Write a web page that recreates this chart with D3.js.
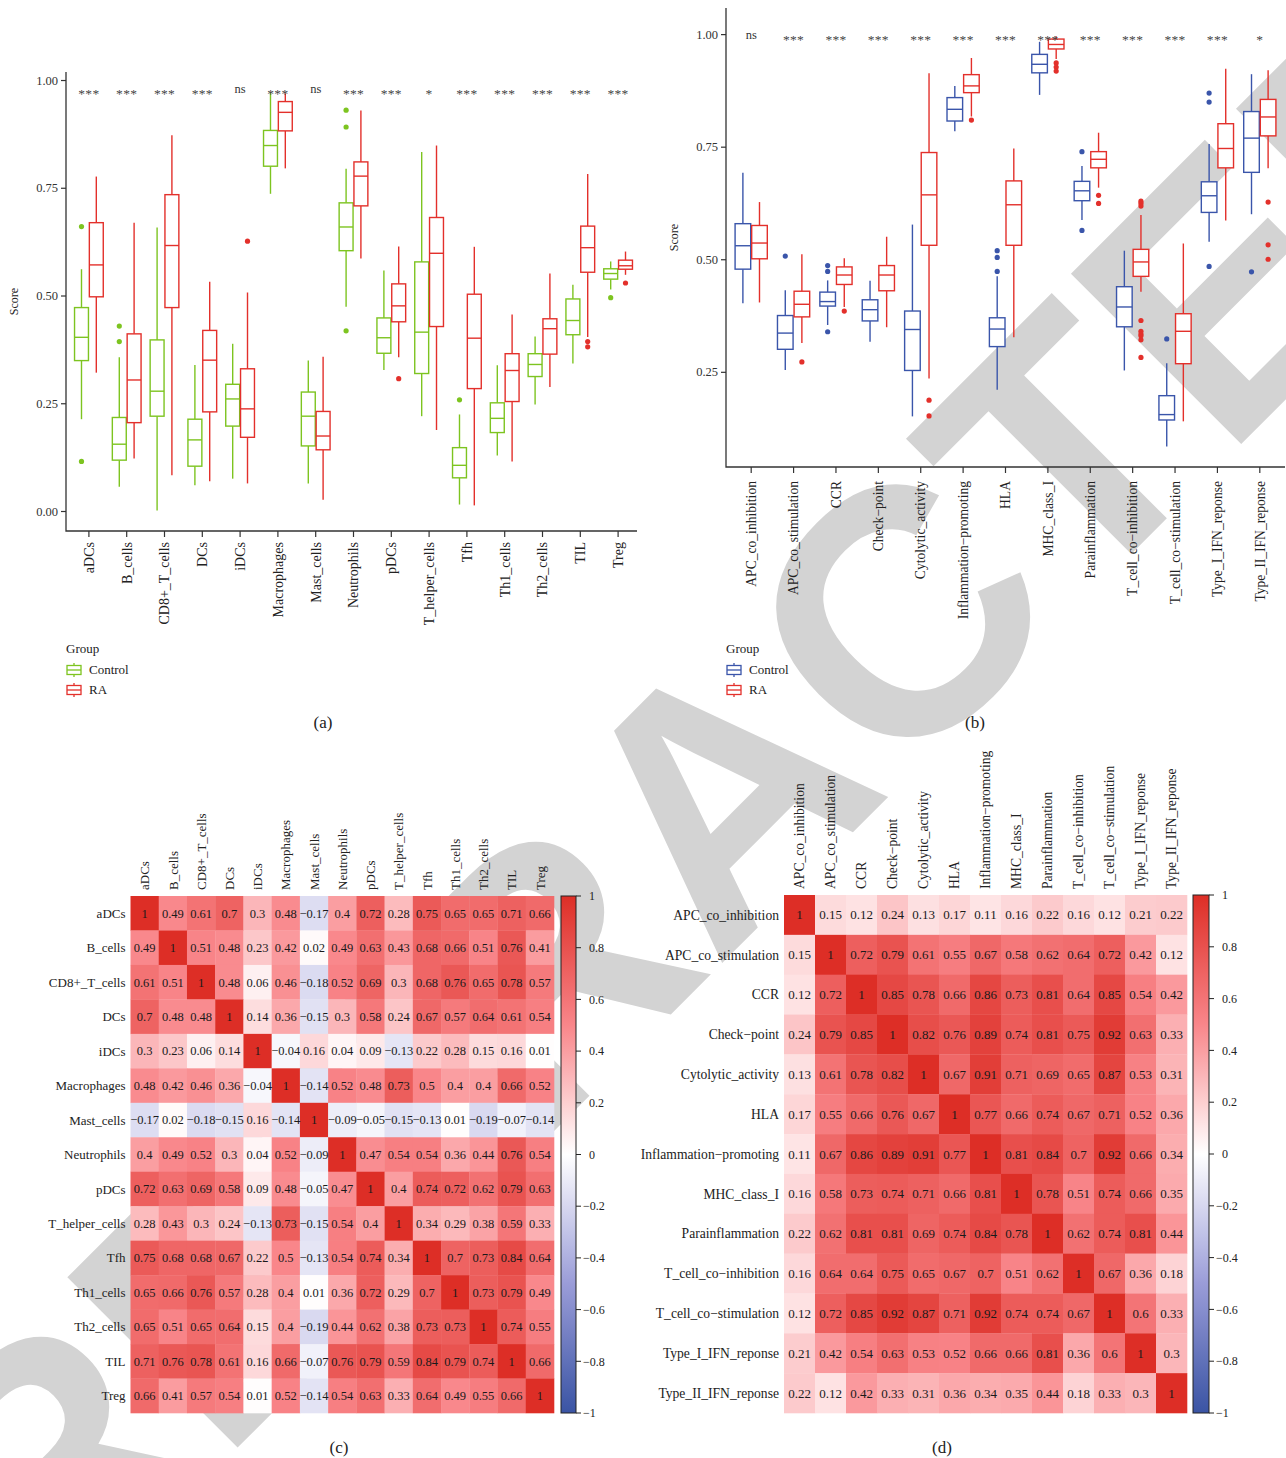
<!DOCTYPE html>
<html>
<head>
<meta charset="utf-8">
<script src="https://cdn.jsdelivr.net/npm/d3@7"></script>
<style>
  body { margin: 0; background: #fff; }
  svg { display: block; }
</style>
</head>
<body>
<svg id="fig" width="1286" height="1458"></svg>
<script>
// ---------------- data ----------------
const groups = ["Control", "RA"];

// immune cell scores: [lower whisker, Q1, median, Q3, upper whisker]
const cellTypes = ["aDCs","B_cells","CD8+_T_cells","DCs","iDCs","Macrophages","Mast_cells","Neutrophils","pDCs","T_helper_cells","Tfh","Th1_cells","Th2_cells","TIL","Treg"];
const cellControlStats = [
  [0.213,0.349,0.403,0.472,0.561],[0.056,0.118,0.155,0.217,0.357],[0.001,0.220,0.278,0.397,0.658],
  [0.060,0.104,0.165,0.213,0.339],[0.075,0.197,0.260,0.294,0.388],[0.736,0.800,0.848,0.883,0.971],
  [0.064,0.151,0.220,0.276,0.349],[0.474,0.604,0.659,0.715,0.794],[0.327,0.366,0.402,0.448,0.558],
  [0.220,0.319,0.415,0.578,0.833],[0.015,0.077,0.106,0.147,0.224],[0.129,0.182,0.215,0.251,0.338],
  [0.247,0.312,0.340,0.365,0.405],[0.342,0.409,0.442,0.492,0.525],[0.514,0.538,0.551,0.562,0.579]
];
const cellControlOutliers = [[0.660,0.115],[0.429,0.393],[],[],[],[],[],[0.930,0.891,0.418],[],[],[0.258],[],[],[],[0.495]];
const cellRAStats = [
  [0.321,0.497,0.571,0.669,0.776],[0.122,0.205,0.304,0.411,0.669],[0.083,0.472,0.616,0.734,0.872],
  [0.069,0.230,0.350,0.419,0.532],[0.064,0.171,0.237,0.330,0.507],[0.795,0.882,0.925,0.950,0.969],
  [0.026,0.142,0.174,0.231,0.358],[0.586,0.708,0.777,0.810,0.929],[0.357,0.439,0.476,0.527,0.614],
  [0.188,0.428,0.598,0.681,0.848],[0.013,0.284,0.401,0.503,0.613],[0.115,0.254,0.326,0.365,0.456],
  [0.288,0.364,0.423,0.446,0.551],[0.404,0.554,0.611,0.661,0.782],[0.548,0.561,0.569,0.582,0.602]
];
const cellRAOutliers = [[],[],[],[],[0.626],[],[],[],[0.307],[],[],[],[],[0.393,0.381],[0.529]];
const cellSignif = ["***","***","***","***","ns","***","ns","***","***","*","***","***","***","***","***"];

// immune function scores
const immuneFunctions = ["APC_co_inhibition","APC_co_stimulation","CCR","Check\u2212point","Cytolytic_activity","Inflammation\u2212promoting","HLA","MHC_class_I","Parainflammation","T_cell_co\u2212inhibition","T_cell_co\u2212stimulation","Type_I_IFN_reponse","Type_II_IFN_reponse"];
const funcControlStats = [
  [0.402,0.478,0.530,0.579,0.692],[0.254,0.300,0.336,0.375,0.431],[0.354,0.396,0.406,0.427,0.453],
  [0.317,0.363,0.388,0.410,0.452],[0.151,0.253,0.344,0.385,0.577],[0.784,0.807,0.833,0.859,0.885],
  [0.210,0.306,0.345,0.370,0.462],[0.865,0.914,0.933,0.955,0.983],[0.587,0.630,0.652,0.673,0.707],
  [0.253,0.350,0.394,0.439,0.519],[0.084,0.143,0.155,0.197,0.269],[0.539,0.604,0.641,0.672,0.756],
  [0.600,0.693,0.769,0.828,0.911]
];
const funcControlOutliers = [[],[0.507],[0.486,0.473,0.339],[],[],[],[0.519,0.504,0.473],[],[0.739,0.564],[],[0.323],[0.869,0.849,0.484],[0.472]];
const funcRAStats = [
  [0.404,0.501,0.536,0.575,0.627],[0.314,0.372,0.400,0.429,0.511],[0.394,0.444,0.465,0.483,0.502],
  [0.349,0.430,0.465,0.486,0.550],[0.235,0.531,0.643,0.737,0.913],[0.817,0.870,0.885,0.910,0.947],
  [0.327,0.531,0.621,0.674,0.746],[0.945,0.967,0.977,0.989,0.995],[0.659,0.703,0.722,0.739,0.781],
  [0.428,0.462,0.494,0.522,0.598],[0.140,0.268,0.340,0.379,0.535],[0.586,0.703,0.746,0.801,0.923],
  [0.702,0.774,0.816,0.855,0.920]
];
const funcRAOutliers = [[],[0.272],[0.385],[],[0.187,0.152],[0.809],[],[0.936,0.927,0.918],[0.642,0.624],[0.629,0.624,0.618,0.364,0.340,0.334,0.330,0.321,0.282],[],[],[0.627,0.532,0.500]];
const funcSignif = ["ns","***","***","***","***","***","***","***","***","***","***","***","*"];

const scoreTicksA = [0, 0.25, 0.5, 0.75, 1];
const scoreTicksB = [0.25, 0.5, 0.75, 1];

// correlation matrices
const corrCellLabels = ["aDCs","B_cells","CD8+_T_cells","DCs","iDCs","Macrophages","Mast_cells","Neutrophils","pDCs","T_helper_cells","Tfh","Th1_cells","Th2_cells","TIL","Treg"];
const cellCorr = [
  [1,0.49,0.61,0.7,0.3,0.48,-0.17,0.4,0.72,0.28,0.75,0.65,0.65,0.71,0.66],
  [0.49,1,0.51,0.48,0.23,0.42,0.02,0.49,0.63,0.43,0.68,0.66,0.51,0.76,0.41],
  [0.61,0.51,1,0.48,0.06,0.46,-0.18,0.52,0.69,0.3,0.68,0.76,0.65,0.78,0.57],
  [0.7,0.48,0.48,1,0.14,0.36,-0.15,0.3,0.58,0.24,0.67,0.57,0.64,0.61,0.54],
  [0.3,0.23,0.06,0.14,1,-0.04,0.16,0.04,0.09,-0.13,0.22,0.28,0.15,0.16,0.01],
  [0.48,0.42,0.46,0.36,-0.04,1,-0.14,0.52,0.48,0.73,0.5,0.4,0.4,0.66,0.52],
  [-0.17,0.02,-0.18,-0.15,0.16,-0.14,1,-0.09,-0.05,-0.15,-0.13,0.01,-0.19,-0.07,-0.14],
  [0.4,0.49,0.52,0.3,0.04,0.52,-0.09,1,0.47,0.54,0.54,0.36,0.44,0.76,0.54],
  [0.72,0.63,0.69,0.58,0.09,0.48,-0.05,0.47,1,0.4,0.74,0.72,0.62,0.79,0.63],
  [0.28,0.43,0.3,0.24,-0.13,0.73,-0.15,0.54,0.4,1,0.34,0.29,0.38,0.59,0.33],
  [0.75,0.68,0.68,0.67,0.22,0.5,-0.13,0.54,0.74,0.34,1,0.7,0.73,0.84,0.64],
  [0.65,0.66,0.76,0.57,0.28,0.4,0.01,0.36,0.72,0.29,0.7,1,0.73,0.79,0.49],
  [0.65,0.51,0.65,0.64,0.15,0.4,-0.19,0.44,0.62,0.38,0.73,0.73,1,0.74,0.55],
  [0.71,0.76,0.78,0.61,0.16,0.66,-0.07,0.76,0.79,0.59,0.84,0.79,0.74,1,0.66],
  [0.66,0.41,0.57,0.54,0.01,0.52,-0.14,0.54,0.63,0.33,0.64,0.49,0.55,0.66,1]
];
const corrFuncLabels = ["APC_co_inhibition","APC_co_stimulation","CCR","Check\u2212point","Cytolytic_activity","HLA","Inflammation\u2212promoting","MHC_class_I","Parainflammation","T_cell_co\u2212inhibition","T_cell_co\u2212stimulation","Type_I_IFN_reponse","Type_II_IFN_reponse"];
const funcCorr = [
  [1,0.15,0.12,0.24,0.13,0.17,0.11,0.16,0.22,0.16,0.12,0.21,0.22],
  [0.15,1,0.72,0.79,0.61,0.55,0.67,0.58,0.62,0.64,0.72,0.42,0.12],
  [0.12,0.72,1,0.85,0.78,0.66,0.86,0.73,0.81,0.64,0.85,0.54,0.42],
  [0.24,0.79,0.85,1,0.82,0.76,0.89,0.74,0.81,0.75,0.92,0.63,0.33],
  [0.13,0.61,0.78,0.82,1,0.67,0.91,0.71,0.69,0.65,0.87,0.53,0.31],
  [0.17,0.55,0.66,0.76,0.67,1,0.77,0.66,0.74,0.67,0.71,0.52,0.36],
  [0.11,0.67,0.86,0.89,0.91,0.77,1,0.81,0.84,0.7,0.92,0.66,0.34],
  [0.16,0.58,0.73,0.74,0.71,0.66,0.81,1,0.78,0.51,0.74,0.66,0.35],
  [0.22,0.62,0.81,0.81,0.69,0.74,0.84,0.78,1,0.62,0.74,0.81,0.44],
  [0.16,0.64,0.64,0.75,0.65,0.67,0.7,0.51,0.62,1,0.67,0.36,0.18],
  [0.12,0.72,0.85,0.92,0.87,0.71,0.92,0.74,0.74,0.67,1,0.6,0.33],
  [0.21,0.42,0.54,0.63,0.53,0.52,0.66,0.66,0.81,0.36,0.6,1,0.3],
  [0.22,0.12,0.42,0.33,0.31,0.36,0.34,0.35,0.44,0.18,0.33,0.3,1]
];
const colorbarTicks = [1, 0.8, 0.6, 0.4, 0.2, 0, -0.2, -0.4, -0.6, -0.8, -1];

// ---------------- drawing ----------------
const SERIF = '"Liberation Serif","DejaVu Serif",serif';
const svg = d3.select("#fig").style("font-family", SERIF);
svg.append("rect").attr("width", 1286).attr("height", 1458).attr("fill", "#fff");

// background stamp
const stamp = svg.append("g");
const stampText = stamp.append("text")
  .attr("font-family", '"Liberation Sans",Arial,sans-serif')
  .attr("font-weight", "bold").attr("font-size", 350)
  .attr("fill", "#d3d3d3").text("RETRACTED");
{
  const ext = stampText.node().getExtentOfChar(5);
  const cx = ext.x + ext.width / 2, cy = -0.36 * 350;
  stampText.attr("transform", `translate(895,612) rotate(-45) translate(${-cx},${-cy})`);
}

const corrColor = d3.scaleLinear()
  .domain([-1, -0.5, 0, 0.5, 1])
  .range(["#3A54A4", "#9A9CD8", "#FFFFFF", "#F9868A", "#DD2E26"]);

function fmtScore(d) { return d3.format(".2f")(d); }

function boxPanel(cfg) {
  const g = svg.append("g");
  const x = d3.scaleBand().domain(cfg.cats).range(cfg.xRange).paddingInner(0.24).paddingOuter(0.12);
  const dodge = d3.scaleBand().domain(groups).range([0, x.bandwidth()]).paddingInner(0.06);
  const y = d3.scaleLinear().domain(cfg.yDomain).range([cfg.yBottom, cfg.yTop]);

  // axes
  const yAxis = g.append("g").attr("transform", `translate(${cfg.axisX},0)`)
    .call(d3.axisLeft(y).tickValues(cfg.yTicks).tickFormat(fmtScore).tickSize(5).tickSizeOuter(0));
  yAxis.select(".domain").remove();
  yAxis.selectAll("text").attr("font-family", SERIF).attr("font-size", 12.5).attr("fill", "#333").attr("x", -8);
  yAxis.selectAll("line").attr("stroke", "#333").attr("stroke-width", 1.2);

  const xAxis = g.append("g").attr("transform", `translate(0,${cfg.yBottom})`)
    .call(d3.axisBottom(x).tickSize(6).tickSizeOuter(0));
  xAxis.select(".domain").remove();
  xAxis.selectAll("line").attr("stroke", "#333").attr("stroke-width", 1.2);
  xAxis.selectAll("text")
    .attr("font-family", SERIF).attr("font-size", cfg.xLabelSize).attr("fill", "#222")
    .attr("text-anchor", "end").attr("dy", null).attr("y", null)
    .attr("transform", `translate(${cfg.xLabelSize * 0.35},${cfg.xLabelGap}) rotate(-90)`);

  g.append("path").attr("d", `M${cfg.axisX},${cfg.yTop}V${cfg.yBottom}H${cfg.axisRight}`)
    .attr("fill", "none").attr("stroke", "#333").attr("stroke-width", 1.3);

  // y title
  g.append("text").attr("transform", `translate(${cfg.titleX},${(cfg.yTop + cfg.yBottom) / 2}) rotate(-90)`)
    .attr("text-anchor", "middle").attr("font-size", 12).attr("fill", "#222").text("Score");

  // boxes
  cfg.series.forEach(s => {
    const sg = g.append("g");
    cfg.cats.forEach((c, i) => {
      const [lo, q1, med, q3, hi] = s.stats[i];
      const x0 = x(c) + dodge(s.group), w = dodge.bandwidth(), cx = x0 + w / 2;
      sg.append("line").attr("x1", cx).attr("x2", cx).attr("y1", y(hi)).attr("y2", y(q3))
        .attr("stroke", s.color).attr("stroke-width", 1.4);
      sg.append("line").attr("x1", cx).attr("x2", cx).attr("y1", y(q1)).attr("y2", y(lo))
        .attr("stroke", s.color).attr("stroke-width", 1.4);
      sg.append("rect").attr("x", x0).attr("width", w).attr("y", y(q3)).attr("height", y(q1) - y(q3))
        .attr("fill", "#fff").attr("stroke", s.color).attr("stroke-width", 1.4);
      sg.append("line").attr("x1", x0).attr("x2", x0 + w).attr("y1", y(med)).attr("y2", y(med))
        .attr("stroke", s.color).attr("stroke-width", 1.4);
      s.outliers[i].forEach(v => {
        sg.append("circle").attr("cx", cx).attr("cy", y(v)).attr("r", 2.6).attr("fill", s.color);
      });
    });
  });

  // significance labels
  g.selectAll(".sig").data(cfg.signif).join("text")
    .attr("x", (d, i) => x(cfg.cats[i]) + x.bandwidth() / 2)
    .attr("y", d => d === "ns" ? cfg.sigY : cfg.sigY + 5)
    .attr("text-anchor", "middle").attr("font-size", d => d === "ns" ? 12.5 : 13.5)
    .attr("letter-spacing", d => d === "ns" ? 0 : 0.3)
    .attr("fill", d => d === "ns" ? "#333" : "#444").text(d => d);

  // legend
  const lg = g.append("g").attr("transform", `translate(${cfg.legendX},${cfg.legendY})`);
  lg.append("text").attr("x", 0).attr("y", 0).attr("font-size", 13).attr("fill", "#222").text("Group");
  cfg.series.forEach((s, k) => {
    const ky = 10 + k * 20;
    const kg = lg.append("g").attr("transform", `translate(1,${ky})`);
    kg.append("line").attr("x1", 7).attr("x2", 7).attr("y1", 0).attr("y2", 14).attr("stroke", s.color).attr("stroke-width", 1.3);
    kg.append("rect").attr("x", 0).attr("y", 2.5).attr("width", 14).attr("height", 9)
      .attr("fill", "#fff").attr("stroke", s.color).attr("stroke-width", 1.3);
    kg.append("line").attr("x1", 0).attr("x2", 14).attr("y1", 7).attr("y2", 7).attr("stroke", s.color).attr("stroke-width", 1.3);
    lg.append("text").attr("x", 23).attr("y", ky + 11).attr("font-size", 13).attr("fill", "#222").text(s.group);
  });
}

const GREEN = "#7DC420", RED = "#E3302B", BLUE = "#3A55AA";

boxPanel({
  cats: cellTypes, xRange: [70, 637],
  yDomain: [-0.0464, 1.0186], yBottom: 531, yTop: 72, yTicks: scoreTicksA,
  axisX: 66, axisRight: 637, titleX: 18, sigY: 93,
  xLabelSize: 14, xLabelGap: 11,
  signif: cellSignif, legendX: 66, legendY: 653,
  series: [
    { group: "Control", color: GREEN, stats: cellControlStats, outliers: cellControlOutliers },
    { group: "RA", color: RED, stats: cellRAStats, outliers: cellRAOutliers }
  ]
});

boxPanel({
  cats: immuneFunctions, xRange: [730, 1281],
  yDomain: [0.0386, 1.058], yBottom: 467, yTop: 8, yTicks: scoreTicksB,
  axisX: 726, axisRight: 1285, titleX: 678, sigY: 39,
  xLabelSize: 13.6, xLabelGap: 14,
  signif: funcSignif, legendX: 726, legendY: 653,
  series: [
    { group: "Control", color: BLUE, stats: funcControlStats, outliers: funcControlOutliers },
    { group: "RA", color: RED, stats: funcRAStats, outliers: funcRAOutliers }
  ]
});

// correlation heatmaps
const defs = svg.append("defs");
function heatmap(cfg) {
  const g = svg.append("g");
  const n = cfg.labels.length;
  const x = d3.scaleBand().domain(d3.range(n)).range([cfg.x0, cfg.x1]);
  const y = d3.scaleBand().domain(d3.range(n)).range([cfg.y0, cfg.y1]);
  const cells = [];
  cfg.matrix.forEach((row, i) => row.forEach((v, j) => cells.push({ i, j, v })));
  g.selectAll("rect.cell").data(cells).join("rect")
    .attr("x", d => x(d.j)).attr("y", d => y(d.i))
    .attr("width", x.bandwidth() + 0.3).attr("height", y.bandwidth() + 0.3)
    .attr("fill", d => corrColor(d.v));
  g.selectAll("text.val").data(cells).join("text")
    .attr("x", d => x(d.j) + x.bandwidth() / 2).attr("y", d => y(d.i) + y.bandwidth() / 2)
    .attr("dy", "0.35em").attr("text-anchor", "middle")
    .attr("font-size", cfg.valueSize).attr("fill", "#1a1a1a")
    .text(d => d.v < 0 ? "\u2212" + String(Math.abs(d.v)) : String(d.v));
  // row labels
  g.selectAll("text.row").data(cfg.labels).join("text")
    .attr("x", cfg.x0 - 5).attr("y", (d, i) => y(i) + y.bandwidth() / 2).attr("dy", "0.35em")
    .attr("text-anchor", "end").attr("font-size", cfg.labelSize).attr("fill", "#222").text(d => d);
  // column labels
  g.selectAll("text.col").data(cfg.labels).join("text")
    .attr("transform", (d, i) => `translate(${x(i) + x.bandwidth() / 2 + cfg.labelSize * 0.36},${cfg.y0 - 6}) rotate(-90)`)
    .attr("text-anchor", "start").attr("font-size", cfg.labelSize).attr("fill", "#222").text(d => d);

  // colour key
  const gid = "grad" + cfg.id;
  const grad = defs.append("linearGradient").attr("id", gid).attr("x1", 0).attr("x2", 0).attr("y1", 1).attr("y2", 0);
  d3.range(0, 1.0001, 0.05).forEach(t => {
    grad.append("stop").attr("offset", t).attr("stop-color", corrColor(-1 + 2 * t));
  });
  const cb = d3.scaleLinear().domain([-1, 1]).range([cfg.y1, cfg.y0]);
  g.append("rect").attr("x", cfg.cbX).attr("y", cfg.y0).attr("width", cfg.cbW).attr("height", cfg.y1 - cfg.y0)
    .attr("fill", `url(#${gid})`).attr("stroke", "#222").attr("stroke-width", 1);
  const right = cfg.cbX + cfg.cbW;
  g.selectAll("line.tick").data(colorbarTicks).join("line")
    .attr("x1", right).attr("x2", right + 5).attr("y1", d => cb(d)).attr("y2", d => cb(d))
    .attr("stroke", "#222").attr("stroke-width", 1);
  g.selectAll("text.tick").data(colorbarTicks).join("text")
    .attr("x", d => d < 0 ? right + 7 : right + 13).attr("y", d => cb(d)).attr("dy", "0.35em")
    .attr("font-size", 12).attr("fill", "#222")
    .text(d => d < 0 ? "\u2212" + String(Math.abs(d)) : String(d));
}

heatmap({ id: "c", labels: corrCellLabels, matrix: cellCorr, x0: 130.5, x1: 554, y0: 896, y1: 1413,
  valueSize: 12.5, labelSize: 13, cbX: 561, cbW: 15 });
heatmap({ id: "d", labels: corrFuncLabels, matrix: funcCorr, x0: 784, x1: 1187, y0: 895, y1: 1413,
  valueSize: 13, labelSize: 13.6, cbX: 1193, cbW: 16 });

// panel letters
[["(a)", 323, 728], ["(b)", 975, 728], ["(c)", 339, 1453], ["(d)", 942, 1453]].forEach(([t, px, py]) => {
  svg.append("text").attr("x", px).attr("y", py).attr("text-anchor", "middle")
    .attr("font-size", 17).attr("fill", "#222").text(t);
});
</script>
</body>
</html>
